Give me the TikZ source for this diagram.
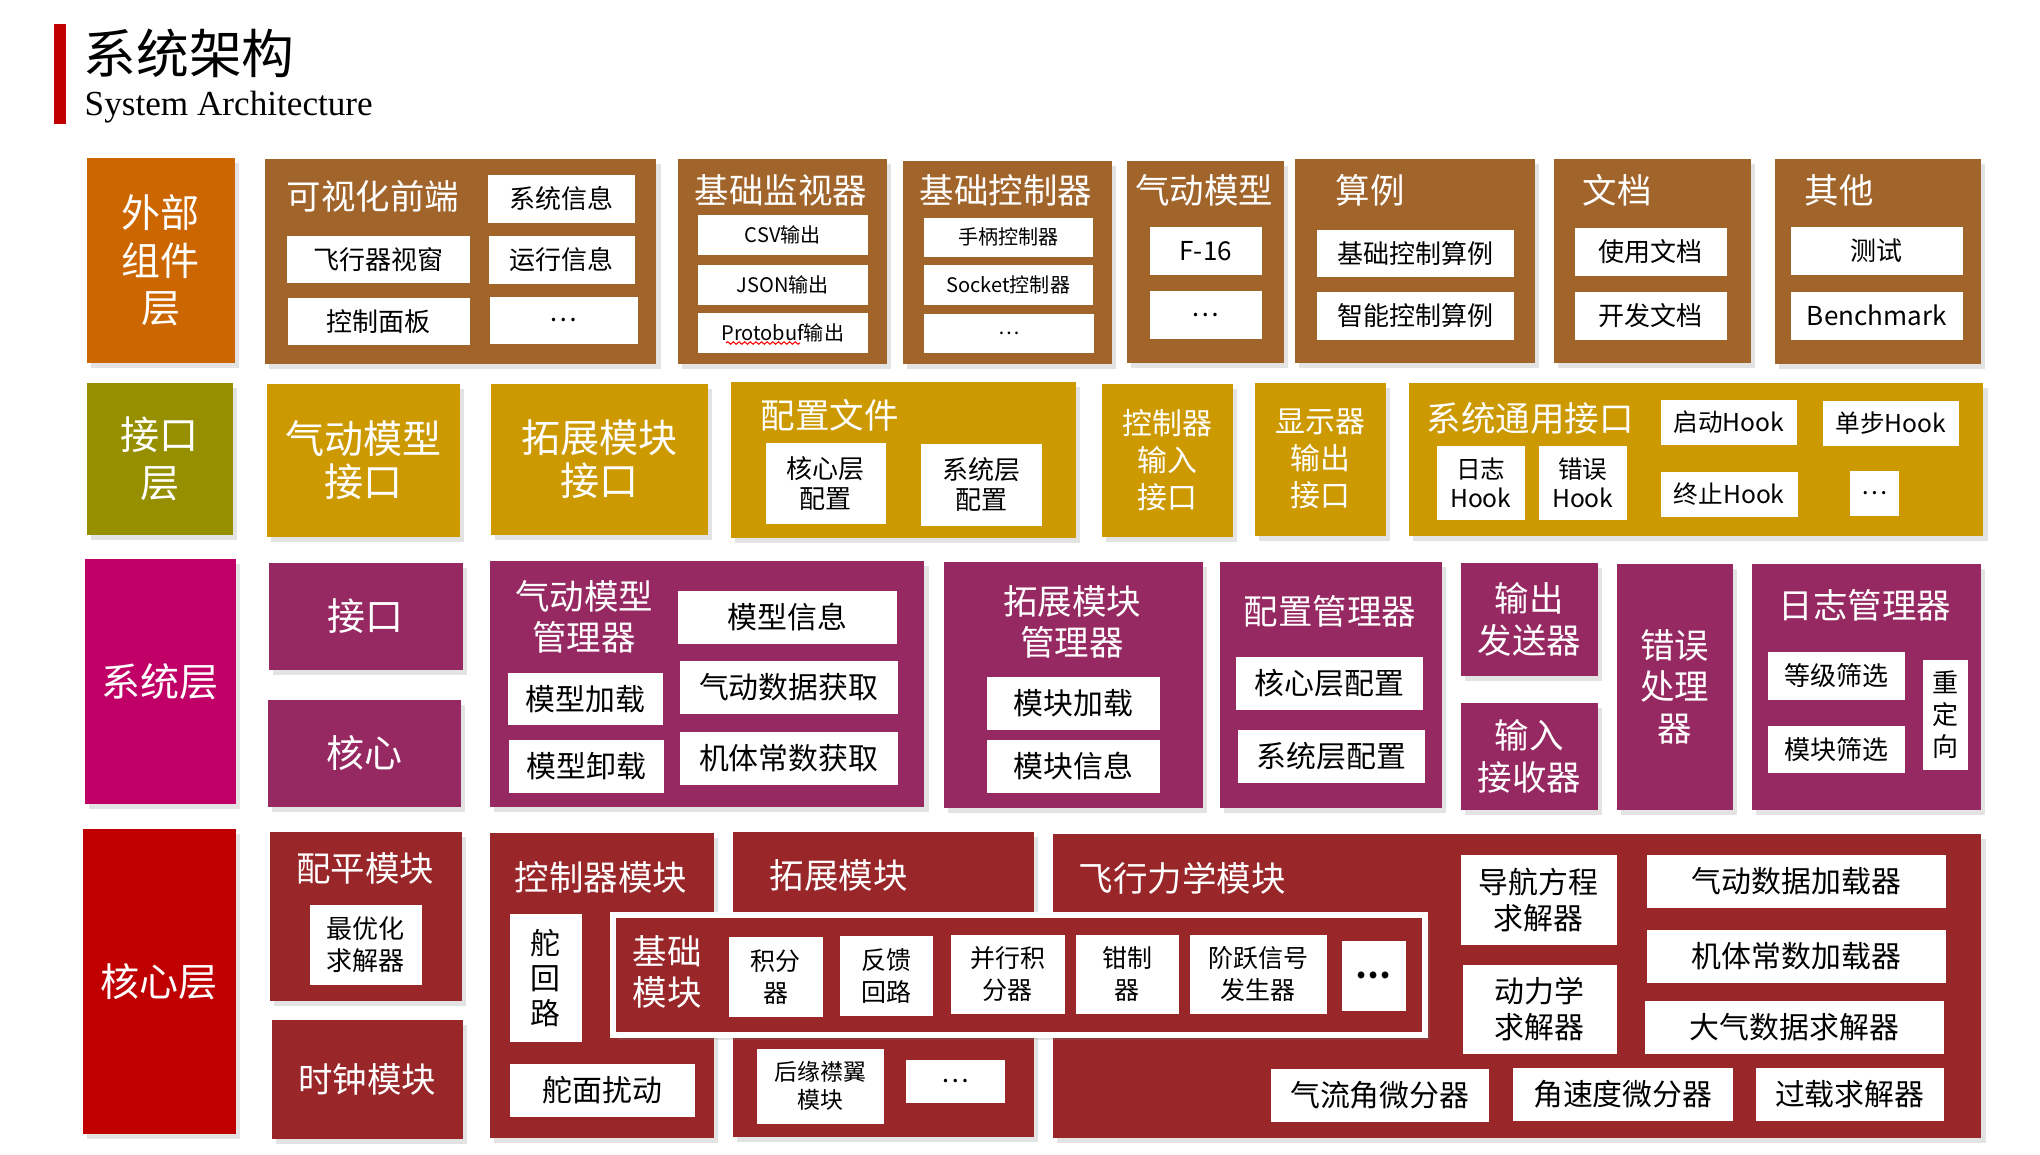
\documentclass[tikz,border=0pt]{standalone}
\usepackage{fontspec}
\setmainfont{Noto Sans CJK SC}
\newfontfamily\enserif{Liberation Serif}
\usetikzlibrary{shadows,decorations.pathmorphing}

\definecolor{extorange}{RGB}{204,102,0}
\definecolor{extbrown}{RGB}{161,101,44}
\definecolor{ifcolive}{RGB}{150,144,0}
\definecolor{ifcgold}{RGB}{204,153,0}
\definecolor{sysmagenta}{RGB}{192,0,103}
\definecolor{sysplum}{RGB}{150,40,98}
\definecolor{corered}{RGB}{192,0,0}
\definecolor{coredark}{RGB}{153,38,41}

\begin{document}
\begin{tikzpicture}[x=0.01cm, y=-0.01cm,
  sz/.style 2 args={minimum width=#1cm, minimum height=#2cm},
  shd/.style={drop shadow={shadow xshift=1.3pt, shadow yshift=-1.5pt, opacity=0.22}},
  lyr/.style={anchor=north west, inner sep=0pt, align=center, text=white, shd,
    font=\fontsize{11.1}{13.5}\selectfont},
  grp/.style={anchor=north west, inner sep=0pt, align=center, text=white, shd},
  ttl/.style={inner sep=0pt, align=center, text=white, font=\fontsize{9.8}{11.6}\selectfont},
  cell/.style={anchor=north west, inner sep=0pt, align=center, fill=white, text=black,
    font=\fontsize{7.4}{9.1}\selectfont},
  cellmid/.style={font=\fontsize{8.5}{10.2}\selectfont},
  cellsml/.style={font=\fontsize{5.7}{7}\selectfont}]

% Canvas
\useasboundingbox (0,0) rectangle (2040,1154);

% Title
\fill[corered] (54,24) rectangle (66,124);
\node[anchor=west, inner sep=0pt, font=\fontsize{15}{18}\selectfont] (title) at (83,53) {系统架构};
\node[anchor=base west, inner sep=0pt, font=\enserif\fontsize{10}{12}\selectfont] (subtitle) at (84,115) {System Architecture};

% Row 1: external components
\node[lyr, fill=extorange, sz={1.48}{2.05}] (ext) at (86,157) {外部\\组件\\层};

\node[grp, fill=extbrown, sz={3.91}{2.05}] (vis) at (264,158) {};
\node[ttl, anchor=west] (visT) at (286,196) {可视化前端};
\node[cell, sz={1.47}{0.48}] (visA) at (487,174) {系统信息};
\node[cell, sz={1.83}{0.47}] (visB) at (286,235) {飞行器视窗};
\node[cell, sz={1.46}{0.48}] (visC) at (488,235) {运行信息};
\node[cell, sz={1.82}{0.47}] (visD) at (287,297) {控制面板};
\node[cell, sz={1.48}{0.47}] (visE) at (489,296) {…};

\node[grp, fill=extbrown, sz={2.09}{2.05}] (mon) at (677,158) {};
\node[ttl] (monT) at (781,190) {基础监视器};
\node[cell, cellsml, sz={1.70}{0.40}] (monA) at (697,214) {CSV输出};
\node[cell, cellsml, sz={1.70}{0.40}] (monB) at (697,264) {JSON输出};
\node[cell, cellsml, sz={1.70}{0.40}] (monC) at (697,312) {Protobuf输出};
\draw[red, line width=0.3pt, decorate, decoration={snake, amplitude=0.35pt, segment length=1.6pt}] (726,343) -- (800,343);

\node[grp, fill=extbrown, sz={2.09}{2.03}] (ctl) at (902,160) {};
\node[ttl] (ctlT) at (1006,190) {基础控制器};
\node[cell, cellsml, sz={1.69}{0.39}] (ctlA) at (923,217) {手柄控制器};
\node[cell, cellsml, sz={1.69}{0.40}] (ctlB) at (923,264) {Socket控制器};
\node[cell, cellsml, sz={1.70}{0.39}] (ctlC) at (923,313) {…};

\node[grp, fill=extbrown, sz={1.57}{2.02}] (aero) at (1126,160) {};
\node[ttl] (aeroT) at (1204,190) {气动模型};
\node[cell, sz={1.12}{0.48}] (aeroA) at (1149,226) {F-16};
\node[cell, sz={1.12}{0.48}] (aeroB) at (1149,290) {…};

\node[grp, fill=extbrown, sz={2.40}{2.04}] (case) at (1294,158) {};
\node[ttl, anchor=west] (caseT) at (1335,190) {算例};
\node[cell, sz={1.97}{0.47}] (caseA) at (1316,229) {基础控制算例};
\node[cell, sz={1.97}{0.48}] (caseB) at (1316,291) {智能控制算例};

\node[grp, fill=extbrown, sz={1.97}{2.04}] (doc) at (1553,158) {};
\node[ttl, anchor=west] (docT) at (1582,190) {文档};
\node[cell, sz={1.52}{0.48}] (docA) at (1574,227) {使用文档};
\node[cell, sz={1.52}{0.48}] (docB) at (1574,291) {开发文档};

\node[grp, fill=extbrown, sz={2.06}{2.05}] (misc) at (1774,158) {};
\node[ttl, anchor=west] (miscT) at (1804,190) {其他};
\node[cell, sz={1.72}{0.48}] (miscA) at (1790,226) {测试};
\node[cell, sz={1.72}{0.48}] (miscB) at (1790,291) {Benchmark};

% Row 2: interface layer
\node[lyr, fill=ifcolive, sz={1.46}{1.52}] (ifc) at (86,382) {接口\\层};
\node[grp, fill=ifcgold, sz={1.93}{1.53}, font=\fontsize{11.1}{12}\selectfont] (aeroIf) at (266,383) {气动模型\\接口};
\node[grp, fill=ifcgold, sz={2.17}{1.51}, font=\fontsize{11.1}{12}\selectfont] (extIf) at (490,383) {拓展模块\\接口};

\node[grp, fill=ifcgold, sz={3.45}{1.56}] (cfg) at (730,381) {};
\node[ttl, anchor=west] (cfgT) at (760,415) {配置文件};
\node[cell, sz={1.20}{0.81}, font=\fontsize{7.4}{8.5}\selectfont] (cfgA) at (765,442) {核心层\\配置};
\node[cell, sz={1.21}{0.82}, font=\fontsize{7.4}{8.5}\selectfont] (cfgB) at (920,443) {系统层\\配置};

\node[grp, fill=ifcgold, sz={1.31}{1.53}, font=\fontsize{8.5}{10.5}\selectfont] (ctlIf) at (1101,383) {控制器\\输入\\接口};
\node[grp, fill=ifcgold, sz={1.31}{1.53}, font=\fontsize{8.5}{10.5}\selectfont] (dspIf) at (1254,382) {显示器\\输出\\接口};

\node[grp, fill=ifcgold, sz={5.74}{1.53}] (gen) at (1408,382) {};
\node[ttl, anchor=west] (genT) at (1426,418) {系统通用接口};
\node[cell, sz={1.36}{0.45}, font=\fontsize{7}{8.3}\selectfont] (genA) at (1660,399) {启动Hook};
\node[cell, sz={1.36}{0.45}, font=\fontsize{7}{8.3}\selectfont] (genB) at (1822,400) {单步Hook};
\node[cell, sz={0.88}{0.74}, font=\fontsize{7}{8.3}\selectfont] (genC) at (1436,445) {日志\\Hook};
\node[cell, sz={0.88}{0.74}, font=\fontsize{7}{8.3}\selectfont] (genD) at (1538,445) {错误\\Hook};
\node[cell, sz={1.37}{0.45}, font=\fontsize{7}{8.3}\selectfont] (genE) at (1660,471) {终止Hook};
\node[cell, sz={0.49}{0.45}, font=\fontsize{7}{8.3}\selectfont] (genF) at (1849,470) {…};

% Row 3: system layer
\node[lyr, fill=sysmagenta, sz={1.51}{2.45}] (sys) at (84,558) {系统层};
\node[grp, fill=sysplum, sz={1.94}{1.07}, font=\fontsize{10.8}{13}\selectfont] (sysIf) at (268,562) {接口};
\node[grp, fill=sysplum, sz={1.93}{1.07}, font=\fontsize{10.8}{13}\selectfont] (sysCore) at (267,699) {核心};

\node[grp, fill=sysplum, sz={4.34}{2.46}] (aeroMgr) at (489,560) {};
\node[ttl] (aeroMgrT) at (584,617) {气动模型\\管理器};
\node[cell, cellmid, sz={2.19}{0.53}] (aeroMgrA) at (677,590) {模型信息};
\node[cell, cellmid, sz={2.18}{0.53}] (aeroMgrB) at (679,660) {气动数据获取};
\node[cell, cellmid, sz={1.55}{0.52}] (aeroMgrC) at (507,672) {模型加载};
\node[cell, cellmid, sz={1.55}{0.53}] (aeroMgrD) at (508,739) {模型卸载};
\node[cell, cellmid, sz={2.18}{0.53}] (aeroMgrE) at (679,731) {机体常数获取};

\node[grp, fill=sysplum, sz={2.59}{2.46}] (extMgr) at (943,561) {};
\node[ttl] (extMgrT) at (1072,622) {拓展模块\\管理器};
\node[cell, cellmid, sz={1.73}{0.53}] (extMgrA) at (986,676) {模块加载};
\node[cell, cellmid, sz={1.73}{0.53}] (extMgrB) at (986,739) {模块信息};

\node[grp, fill=sysplum, sz={2.22}{2.46}] (cfgMgr) at (1219,561) {};
\node[ttl] (cfgMgrT) at (1330,611) {配置管理器};
\node[cell, cellmid, sz={1.87}{0.53}] (cfgMgrA) at (1235,656) {核心层配置};
\node[cell, cellmid, sz={1.87}{0.53}] (cfgMgrB) at (1237,729) {系统层配置};

\node[grp, fill=sysplum, sz={1.37}{1.13}, font=\fontsize{9.8}{12}\selectfont] (outSnd) at (1460,562) {输出\\发送器};
\node[grp, fill=sysplum, sz={1.37}{1.07}, font=\fontsize{9.8}{12}\selectfont] (inpRcv) at (1460,702) {输入\\接收器};
\node[grp, fill=sysplum, sz={1.16}{2.46}, font=\fontsize{9.8}{11.8}\selectfont] (errHdl) at (1616,563) {错误\\处理\\器};

\node[grp, fill=sysplum, sz={2.29}{2.46}] (logMgr) at (1751,563) {};
\node[ttl] (logMgrT) at (1865,605) {日志管理器};
\node[cell, sz={1.37}{0.48}] (logMgrA) at (1767,651) {等级筛选};
\node[cell, sz={1.37}{0.47}] (logMgrB) at (1767,725) {模块筛选};
\node[cell, sz={0.45}{1.10}] (logMgrC) at (1922,659) {重\\定\\向};

% Row 4: core layer
\node[lyr, fill=corered, sz={1.53}{3.05}] (core) at (82,828) {核心层};

\node[grp, fill=coredark, sz={1.92}{1.69}] (trim) at (269,831) {};
\node[ttl] (trimT) at (365,868) {配平模块};
\node[cell, sz={1.12}{0.80}] (trimA) at (309,904) {最优化\\求解器};
\node[grp, fill=coredark, sz={1.91}{1.19}, font=\fontsize{9.8}{11.6}\selectfont] (clock) at (271,1019) {时钟模块};

\node[grp, fill=coredark, sz={2.24}{3.05}] (ctlMod) at (489,832) {};
\node[ttl] (ctlModT) at (601,877) {控制器模块};
\node[cell, sz={0.72}{1.28}, font=\fontsize{8.5}{10}\selectfont] (ctlModA) at (509,913) {舵\\回\\路};
\node[cell, cellmid, sz={1.85}{0.53}] (ctlModB) at (509,1063) {舵面扰动};

\node[grp, fill=coredark, sz={3.01}{3.05}] (extMod) at (732,831) {};
\node[ttl, anchor=west] (extModT) at (769,875) {拓展模块};
\node[cell, sz={1.27}{0.75}, font=\fontsize{6.5}{8}\selectfont] (extModA) at (756,1048) {后缘襟翼\\模块};
\node[cell, sz={0.99}{0.43}] (extModB) at (905,1059) {…};

\node[grp, fill=coredark, sz={9.28}{3.04}] (fdm) at (1052,833) {};
\node[ttl, anchor=west] (fdmT) at (1078,878) {飞行力学模块};
\node[cell, cellmid, sz={1.56}{0.90}] (fdmA) at (1460,854) {导航方程\\求解器};
\node[cell, cellmid, sz={1.54}{0.89}] (fdmB) at (1462,964) {动力学\\求解器};
\node[cell, cellmid, sz={2.99}{0.53}] (fdmC) at (1646,854) {气动数据加载器};
\node[cell, cellmid, sz={2.99}{0.53}] (fdmD) at (1646,929) {机体常数加载器};
\node[cell, cellmid, sz={2.99}{0.53}] (fdmE) at (1644,1000) {大气数据求解器};
\node[cell, cellmid, sz={2.18}{0.53}] (fdmF) at (1270,1068) {气流角微分器};
\node[cell, cellmid, sz={2.20}{0.53}] (fdmG) at (1512,1067) {角速度微分器};
\node[cell, cellmid, sz={1.88}{0.53}] (fdmH) at (1755,1067) {过载求解器};

% Basic block, drawn over the three modules
\node[grp, fill=coredark, draw=white, line width=1.7pt, sz={8.12}{1.20}] (basic) at (610,912) {};
\node[ttl, font=\fontsize{9.8}{11.7}\selectfont] (basicT) at (667,972) {基础\\模块};
\node[cell, sz={0.94}{0.80}, font=\fontsize{7.1}{9.1}\selectfont] (basicA) at (728,936) {积分\\器};
\node[cell, sz={0.93}{0.80}, font=\fontsize{7.1}{9.1}\selectfont] (basicB) at (839,935) {反馈\\回路};
\node[cell, sz={1.14}{0.79}, font=\fontsize{7.1}{9.1}\selectfont] (basicC) at (950,934) {并行积\\分器};
\node[cell, sz={1.03}{0.79}, font=\fontsize{7.1}{9.1}\selectfont] (basicD) at (1075,934) {钳制\\器};
\node[cell, sz={1.37}{0.79}, font=\fontsize{7.1}{9.1}\selectfont] (basicE) at (1189,934) {阶跃信号\\发生器};
\node[cell, sz={0.64}{0.70}, font=\bfseries\fontsize{9}{10}\selectfont] (basicF) at (1341,940) {…};

\end{tikzpicture}
\end{document}
